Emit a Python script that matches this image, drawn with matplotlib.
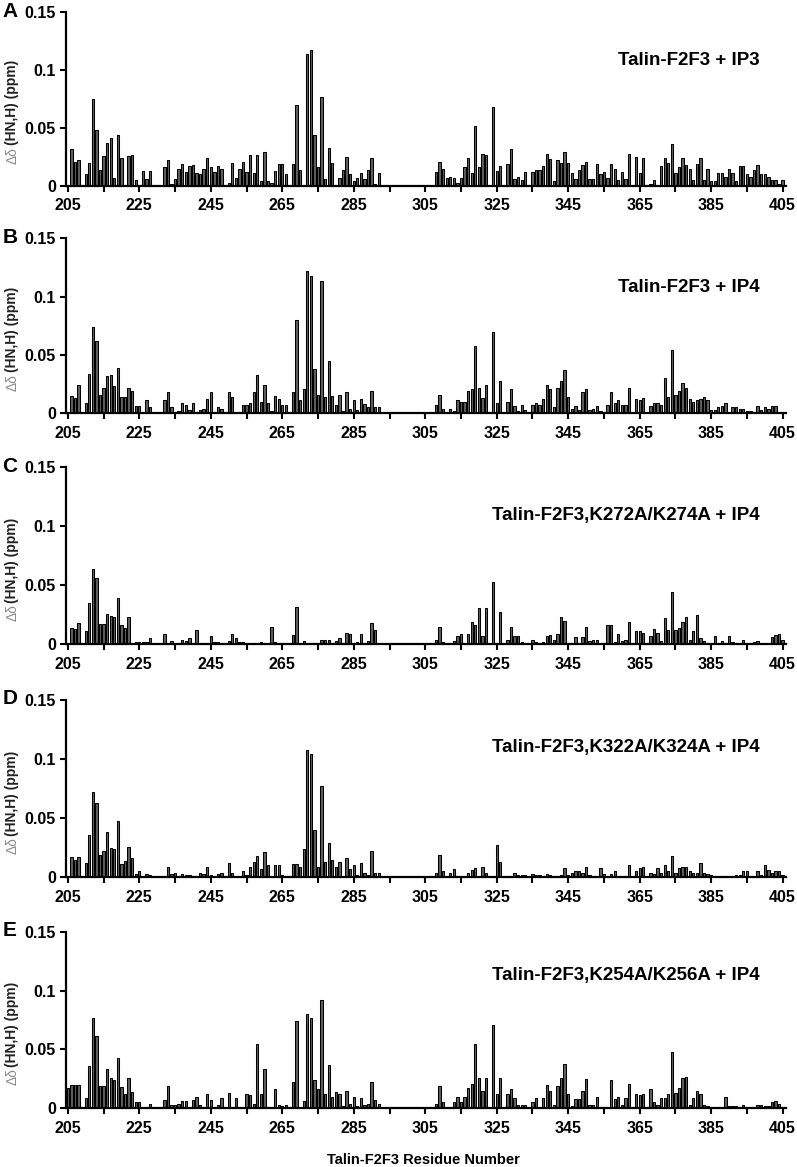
import numpy as np
import matplotlib
matplotlib.use("Agg")
import matplotlib.pyplot as plt

plt.rcParams["font.family"] = ["Liberation Sans", "DejaVu Sans"]

# --- data: chemical shift changes, in 0.001 ppm, residues 205..405 ---
residues = np.arange(205, 406)

shift_ip3 = [
    0, 32, 21, 22, 0, 10, 20, 75, 48, 14,
    26, 37, 41, 7, 44, 24, 1, 26, 27, 5,
    1, 13, 6, 13, 0, 0, 0, 16, 22, 2,
    6, 15, 19, 12, 17, 18, 11, 10, 15, 24,
    16, 12, 17, 15, 0, 3, 20, 7, 15, 21,
    12, 27, 11, 27, 4, 29, 4, 3, 13, 19,
    19, 10, 0, 19, 70, 14, 0, 114, 117, 44,
    16, 77, 6, 33, 20, 1, 7, 14, 25, 10,
    4, 7, 11, 6, 14, 24, 2, 11, 0, 0,
    0, 0, 0, 0, 0, 0, 0, 0, 0, 0,
    0, 0, 0, 12, 21, 15, 7, 8, 7, 3,
    7, 16, 24, 11, 52, 16, 28, 27, 0, 68,
    13, 17, 0, 19, 32, 6, 8, 5, 12, 0,
    12, 14, 14, 17, 28, 23, 4, 22, 20, 29,
    20, 11, 6, 14, 18, 21, 6, 6, 19, 10,
    12, 7, 19, 15, 5, 12, 6, 28, 0, 25,
    11, 24, 0, 2, 5, 0, 17, 24, 20, 36,
    11, 16, 24, 18, 15, 5, 19, 24, 5, 15,
    4, 4, 11, 11, 8, 15, 11, 4, 17, 17,
    10, 8, 14, 18, 10, 10, 8, 5, 5, 2,
    5,
]

shift_ip4 = [
    0, 15, 13, 24, 0, 9, 34, 74, 62, 16,
    22, 32, 33, 23, 39, 14, 14, 22, 19, 6,
    6, 0, 11, 5, 0, 0, 0, 11, 18, 5,
    1, 2, 9, 7, 3, 9, 1, 3, 4, 12,
    18, 0, 5, 4, 0, 18, 14, 0, 1, 7,
    7, 9, 18, 33, 10, 24, 9, 2, 15, 12,
    7, 7, 0, 18, 80, 11, 21, 122, 118, 38,
    16, 113, 14, 45, 15, 7, 16, 2, 18, 4,
    11, 3, 12, 8, 5, 19, 5, 5, 0, 0,
    0, 0, 0, 0, 0, 0, 0, 0, 0, 0,
    0, 0, 0, 7, 16, 4, 1, 4, 2, 11,
    10, 10, 19, 21, 58, 22, 13, 24, 0, 70,
    9, 28, 0, 10, 21, 6, 2, 7, 3, 0,
    7, 9, 7, 12, 24, 21, 5, 22, 28, 37,
    14, 4, 6, 3, 18, 21, 3, 4, 6, 2,
    1, 7, 18, 9, 11, 7, 7, 22, 0, 12,
    11, 13, 0, 6, 9, 9, 7, 30, 14, 54,
    16, 19, 26, 22, 12, 10, 11, 12, 14, 11,
    3, 3, 5, 6, 9, 1, 5, 5, 4, 4,
    2, 2, 1, 6, 3, 5, 4, 6, 6, 1,
    1,
]

shift_k272 = [
    0, 14, 13, 18, 0, 11, 35, 64, 56, 17,
    17, 26, 24, 23, 39, 16, 14, 23, 0, 2,
    2, 2, 2, 5, 0, 0, 0, 9, 0, 3,
    1, 1, 4, 3, 5, 0, 12, 0, 0, 1,
    7, 2, 2, 1, 0, 3, 9, 5, 2, 2,
    0, 0, 0, 1, 2, 0, 1, 15, 2, 1,
    1, 1, 0, 8, 32, 0, 3, 0, 1, 1,
    0, 4, 4, 4, 1, 3, 5, 0, 10, 9,
    0, 2, 9, 0, 3, 18, 12, 0, 0, 0,
    0, 0, 0, 0, 0, 0, 0, 0, 0, 0,
    0, 0, 0, 4, 15, 2, 1, 1, 3, 7,
    9, 0, 9, 19, 16, 31, 7, 31, 0, 53,
    0, 27, 0, 4, 15, 7, 7, 2, 1, 0,
    4, 2, 0, 2, 7, 8, 4, 9, 23, 20,
    1, 0, 6, 0, 6, 15, 3, 4, 4, 0,
    1, 16, 16, 2, 9, 3, 4, 19, 0, 11,
    11, 10, 0, 7, 13, 10, 3, 22, 12, 44,
    12, 14, 19, 23, 4, 11, 25, 5, 3, 1,
    0, 7, 0, 3, 1, 7, 2, 1, 0, 4,
    0, 0, 2, 3, 0, 0, 1, 6, 8, 9,
    4,
]

shift_k322 = [
    0, 17, 15, 17, 0, 12, 36, 72, 63, 19,
    22, 38, 25, 24, 48, 11, 14, 26, 16, 3,
    5, 1, 3, 2, 0, 0, 0, 1, 9, 3,
    4, 1, 3, 2, 2, 1, 0, 4, 3, 9,
    2, 0, 3, 4, 0, 12, 4, 1, 0, 5,
    2, 9, 13, 18, 7, 21, 10, 0, 10, 10,
    2, 1, 0, 11, 11, 9, 24, 108, 104, 40,
    9, 77, 13, 29, 15, 9, 13, 0, 16, 7,
    10, 2, 12, 4, 2, 22, 4, 4, 0, 0,
    0, 0, 0, 0, 0, 0, 0, 0, 0, 0,
    0, 0, 0, 4, 19, 5, 0, 4, 7, 1,
    0, 0, 4, 6, 8, 0, 9, 4, 0, 0,
    27, 13, 0, 1, 1, 4, 2, 2, 2, 0,
    3, 2, 2, 1, 3, 2, 1, 0, 2, 8,
    2, 4, 5, 5, 4, 9, 2, 1, 1, 8,
    3, 0, 3, 5, 1, 1, 1, 10, 0, 5,
    8, 9, 0, 4, 3, 8, 4, 10, 5, 18,
    4, 8, 9, 9, 5, 4, 4, 12, 4, 3,
    2, 1, 0, 1, 1, 1, 0, 2, 2, 5,
    5, 1, 0, 5, 2, 10, 6, 4, 5, 5,
    2,
]

shift_k254 = [
    17, 20, 20, 20, 0, 9, 36, 77, 61, 19,
    19, 33, 26, 24, 43, 18, 12, 26, 14, 5,
    5, 0, 0, 4, 0, 0, 0, 7, 19, 3,
    3, 4, 6, 6, 0, 7, 10, 3, 0, 12,
    7, 0, 3, 9, 0, 13, 0, 9, 0, 0,
    12, 11, 4, 55, 12, 33, 0, 0, 16, 3,
    2, 3, 0, 22, 74, 0, 6, 80, 77, 24,
    16, 92, 12, 37, 10, 14, 12, 2, 15, 4,
    10, 2, 9, 3, 4, 22, 7, 4, 0, 0,
    0, 0, 0, 0, 0, 0, 0, 0, 0, 0,
    0, 0, 0, 4, 19, 5, 1, 1, 5, 10,
    5, 10, 17, 21, 55, 26, 15, 26, 0, 71,
    12, 26, 0, 12, 16, 9, 3, 3, 3, 0,
    5, 9, 0, 9, 20, 15, 3, 19, 26, 38,
    12, 2, 8, 8, 15, 25, 3, 3, 10, 1,
    0, 0, 24, 8, 10, 3, 9, 21, 0, 12,
    11, 12, 0, 16, 5, 3, 9, 9, 12, 48,
    13, 17, 26, 27, 3, 9, 15, 12, 3, 2,
    0, 0, 1, 0, 10, 2, 2, 2, 0, 3,
    1, 1, 0, 3, 3, 2, 2, 5, 6, 4,
    1,
]

panel_letters = ["A", "B", "C", "D", "E"]
panel_titles = [
    "Talin-F2F3 + IP3",
    "Talin-F2F3 + IP4",
    "Talin-F2F3,K272A/K274A + IP4",
    "Talin-F2F3,K322A/K324A + IP4",
    "Talin-F2F3,K254A/K256A + IP4",
]
panel_shifts = [shift_ip3, shift_ip4, shift_k272, shift_k322, shift_k254]

ytick_vals = [0, 0.05, 0.1, 0.15]
ytick_labels = ["0", "0.05", "0.1", "0.15"]
xtick_labels = [205, 225, 245, 265, 285, 305, 325, 345, 365, 385, 405]

# --- layout (pixel geometry of the original figure) ---
W, H = 797, 1167
fig = plt.figure(figsize=(W / 100, H / 100), dpi=100)

ax_left, ax_right = 65.7, 785.5
# (y of 0.15 gridline, y of baseline) for each panel, in pixels from top
panel_rows = [(12, 186), (238.3, 413.3), (467.3, 644.3), (700, 877.3), (931.7, 1108.3)]
title_y = [0.724, 0.719, 0.728, 0.732, 0.752]

for i in range(5):
    top, base = panel_rows[i]
    ax = fig.add_axes([ax_left / W, 1 - base / H, (ax_right - ax_left) / W, (base - top) / H])
    vals = np.array(panel_shifts[i]) / 1000.0
    ax.bar(residues, vals, width=0.65, color="#5e5e5e", edgecolor="black", linewidth=0.75)

    ax.set_xlim(204.4, 405.8)
    ax.set_ylim(0, 0.15)
    ax.set_xticks(xtick_labels)
    ax.set_xticklabels([str(v) for v in xtick_labels])
    ax.set_xticks(np.arange(215, 400, 20), minor=True)
    ax.set_yticks(ytick_vals)
    ax.set_yticklabels(ytick_labels)

    for s in ["top", "right"]:
        ax.spines[s].set_visible(False)
    for s in ["left", "bottom"]:
        ax.spines[s].set_linewidth(1.6)
        ax.spines[s].set_clip_on(False)
    ax.tick_params(axis="both", which="both", direction="out", length=4, width=1.5,
                   labelsize=11.5)
    ax.tick_params(axis="x", pad=5)
    ax.tick_params(axis="y", pad=3)
    for lab in ax.get_xticklabels() + ax.get_yticklabels():
        lab.set_fontweight("bold")

    ax.text(0.9646, title_y[i], panel_titles[i], transform=ax.transAxes,
            ha="right", va="center", fontsize=13.5, fontweight="bold")
    ax.text(-0.088, 1.06, panel_letters[i], transform=ax.transAxes,
            ha="left", va="top", fontsize=15, fontweight="bold")

    # y-axis label: grey delta-delta and dark bold rest
    ax.text(-0.074, 0.225, "Δδ", transform=ax.transAxes, rotation=90,
            ha="center", va="top", fontsize=10, color="#8a8a8a")
    ax.text(-0.074, 0.235, "(HN,H) (ppm)", transform=ax.transAxes, rotation=90,
            ha="center", va="bottom", fontsize=10, fontweight="bold", color="#222222")

fig.text(423.5 / W, 1 - 1160 / H, "Talin-F2F3 Residue Number", ha="center", va="center",
         fontsize=10.5, fontweight="bold")

plt.savefig("out.png", dpi=100)
print("Saved: out.png")
plt.close()
